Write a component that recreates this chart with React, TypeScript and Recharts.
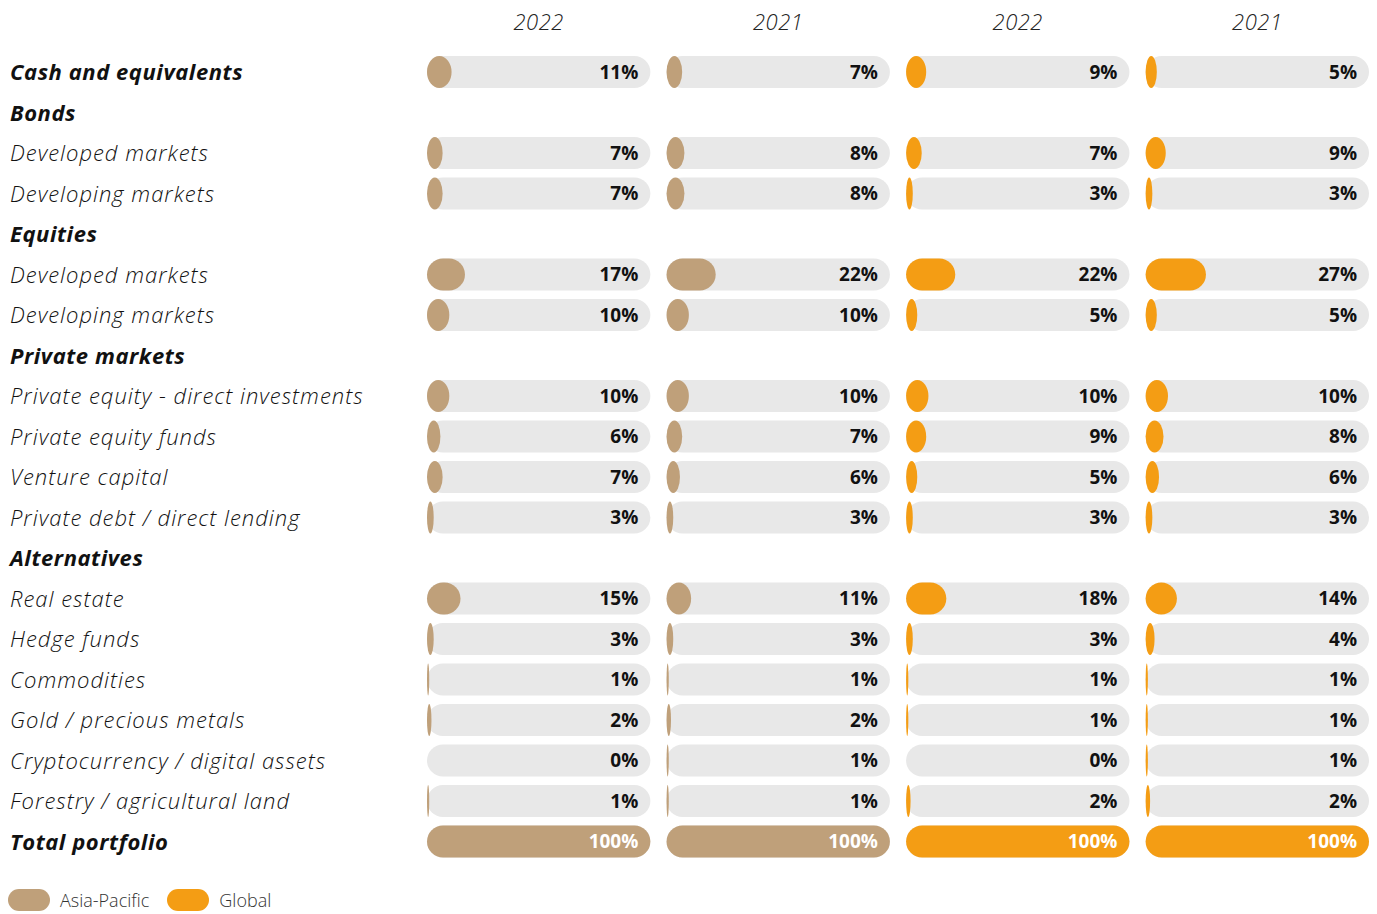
import React from 'react';
import { BarChart, Bar, XAxis, YAxis, LabelList } from 'recharts';

const categories = [
    'Cash and equivalents',
    'Bonds',
    'Developed markets',
    'Developing markets',
    'Equities',
    'Developed markets',
    'Developing markets',
    'Private markets',
    'Private equity - direct investments',
    'Private equity funds',
    'Venture capital',
    'Private debt / direct lending',
    'Alternatives',
    'Real estate',
    'Hedge funds',
    'Commodities',
    'Gold / precious metals',
    'Cryptocurrency / digital assets',
    'Forestry / agricultural land',
    'Total portfolio',
];

const boldRows = ['Cash and equivalents', 'Bonds', 'Equities', 'Private markets', 'Alternatives', 'Total portfolio'];

const columnYears = ['2022', '2021', '2022', '2021'];
const seriesNames = ['Asia-Pacific', 'Global'];

// null = section heading, no bar
const apac2022 = [11, null, 7, 7, null, 17, 10, null, 10, 6, 7, 3, null, 15, 3, 1, 2, 0, 1, 100];
const apac2021 = [7, null, 8, 8, null, 22, 10, null, 10, 7, 6, 3, null, 11, 3, 1, 2, 1, 1, 100];
const global2022 = [9, null, 7, 3, null, 22, 5, null, 10, 9, 5, 3, null, 18, 3, 1, 1, 0, 2, 100];
const global2021 = [5, null, 9, 3, null, 27, 5, null, 10, 8, 6, 3, null, 14, 4, 1, 1, 1, 2, 100];

const TAN = '#BFA07A';
const ORANGE = '#F49D14';
const TRACK = '#E8E8E8';
const FONT = '"Open Sans", sans-serif';

const COL_WIDTH = 100;
const COL_GAP = 7.25;
const colStart = (k: number) => k * (COL_WIDTH + COL_GAP);

const columns = [
    { key: 'c0', values: apac2022, color: TAN },
    { key: 'c1', values: apac2021, color: TAN },
    { key: 'c2', values: global2022, color: ORANGE },
    { key: 'c3', values: global2021, color: ORANGE },
];

const data = categories.map((label, i) => {
    const row: any = { label };
    columns.forEach((c) => {
        row[c.key] = c.values[i];
    });
    return row;
});

const PillShape = (props: any) => {
    const { x, y, width, height, fill } = props;
    if (!width || width <= 0) return null;
    return (
        <rect
            x={x}
            y={y}
            width={width}
            height={height}
            rx={Math.min(height / 2, width / 2)}
            ry={height / 2}
            fill={fill}
        />
    );
};

const RowTick = (props: any) => {
    const { y, payload } = props;
    const bold = boldRows.includes(payload.value);
    return (
        <text
            x={10}
            y={y}
            dy="0.36em"
            textAnchor="start"
            fontFamily={FONT}
            fontSize={22}
            fontStyle="italic"
            fontWeight={bold ? 700 : 300}
            letterSpacing={bold ? 0.55 : 1}
            fill="#111"
        >
            {payload.value}
        </text>
    );
};

const YearTick = (props: any) => {
    const { x, y, index } = props;
    return (
        <text x={x} y={y} dy={-14} textAnchor="middle" fontFamily={FONT} fontSize={22} fontStyle="italic" fontWeight={300} letterSpacing={0.5} fill="#222">
            {columnYears[index]}
        </text>
    );
};

const renderValueLabel = (p: any) => {
    const v = p.value;
    if (v == null) return null;
    const vb = p.viewBox || p;
    return (
        <text
            x={vb.x + vb.width - 12}
            y={vb.y + vb.height / 2}
            dy="0.36em"
            textAnchor="end"
            fontFamily={FONT}
            fontSize={19}
            fontWeight={700}
            fill={v === 100 ? '#fff' : '#111'}
        >
            {v}%
        </text>
    );
};

const trackRange = (k: number) => (d: any) =>
    d[columns[k].key] == null ? null : [colStart(k), colStart(k) + COL_WIDTH];
const valueRange = (k: number) => (d: any) =>
    d[columns[k].key] == null ? null : [colStart(k), colStart(k) + d[columns[k].key]];

const App: React.FC = () => {
    const domainMax = colStart(3) + COL_WIDTH;
    return (
        <div style={{ position: 'absolute', left: 0, top: 0, width: 1377, height: 914, overflow: 'hidden', fontFamily: FONT, background: '#fff' }}>
            <BarChart
                width={1377}
                height={914}
                data={data}
                layout="vertical"
                margin={{ top: 22, right: 8, bottom: 52, left: 0 }}
                barSize={32}
                barGap={-32}
            >
                <XAxis
                    type="number"
                    orientation="top"
                    domain={[0, domainMax]}
                    ticks={columns.map((_, k) => colStart(k) + COL_WIDTH / 2)}
                    axisLine={false}
                    tickLine={false}
                    height={30}
                    tick={<YearTick />}
                />
                <YAxis
                    type="category"
                    dataKey="label"
                    width={427}
                    axisLine={false}
                    tickLine={false}
                    interval={0}
                    tick={<RowTick />}
                />
                {columns.map((c, k) => (
                    <Bar key={`track-${k}`} dataKey={trackRange(k)} fill={TRACK} radius={16} isAnimationActive={false} />
                ))}
                {columns.map((c, k) => (
                    <Bar key={`value-${k}`} dataKey={valueRange(k)} fill={c.color} shape={<PillShape />} isAnimationActive={false} />
                ))}
                {columns.map((c, k) => (
                    <Bar key={`label-${k}`} dataKey={trackRange(k)} fill="transparent" isAnimationActive={false}>
                        <LabelList dataKey={c.key} content={renderValueLabel} />
                    </Bar>
                ))}
            </BarChart>
            <div style={{ position: 'absolute', left: 8, top: 888, display: 'flex', alignItems: 'center', fontSize: 18, lineHeight: '24px', fontWeight: 300, color: '#333' }}>
                {seriesNames.map((name, i) => (
                    <div key={name} style={{ display: 'flex', alignItems: 'center', marginRight: 18 }}>
                        <span style={{ display: 'inline-block', width: 42, height: 22, borderRadius: 11, background: i === 0 ? TAN : ORANGE, marginRight: 10 }} />
                        <span>{name}</span>
                    </div>
                ))}
            </div>
        </div>
    );
};

export default App;
